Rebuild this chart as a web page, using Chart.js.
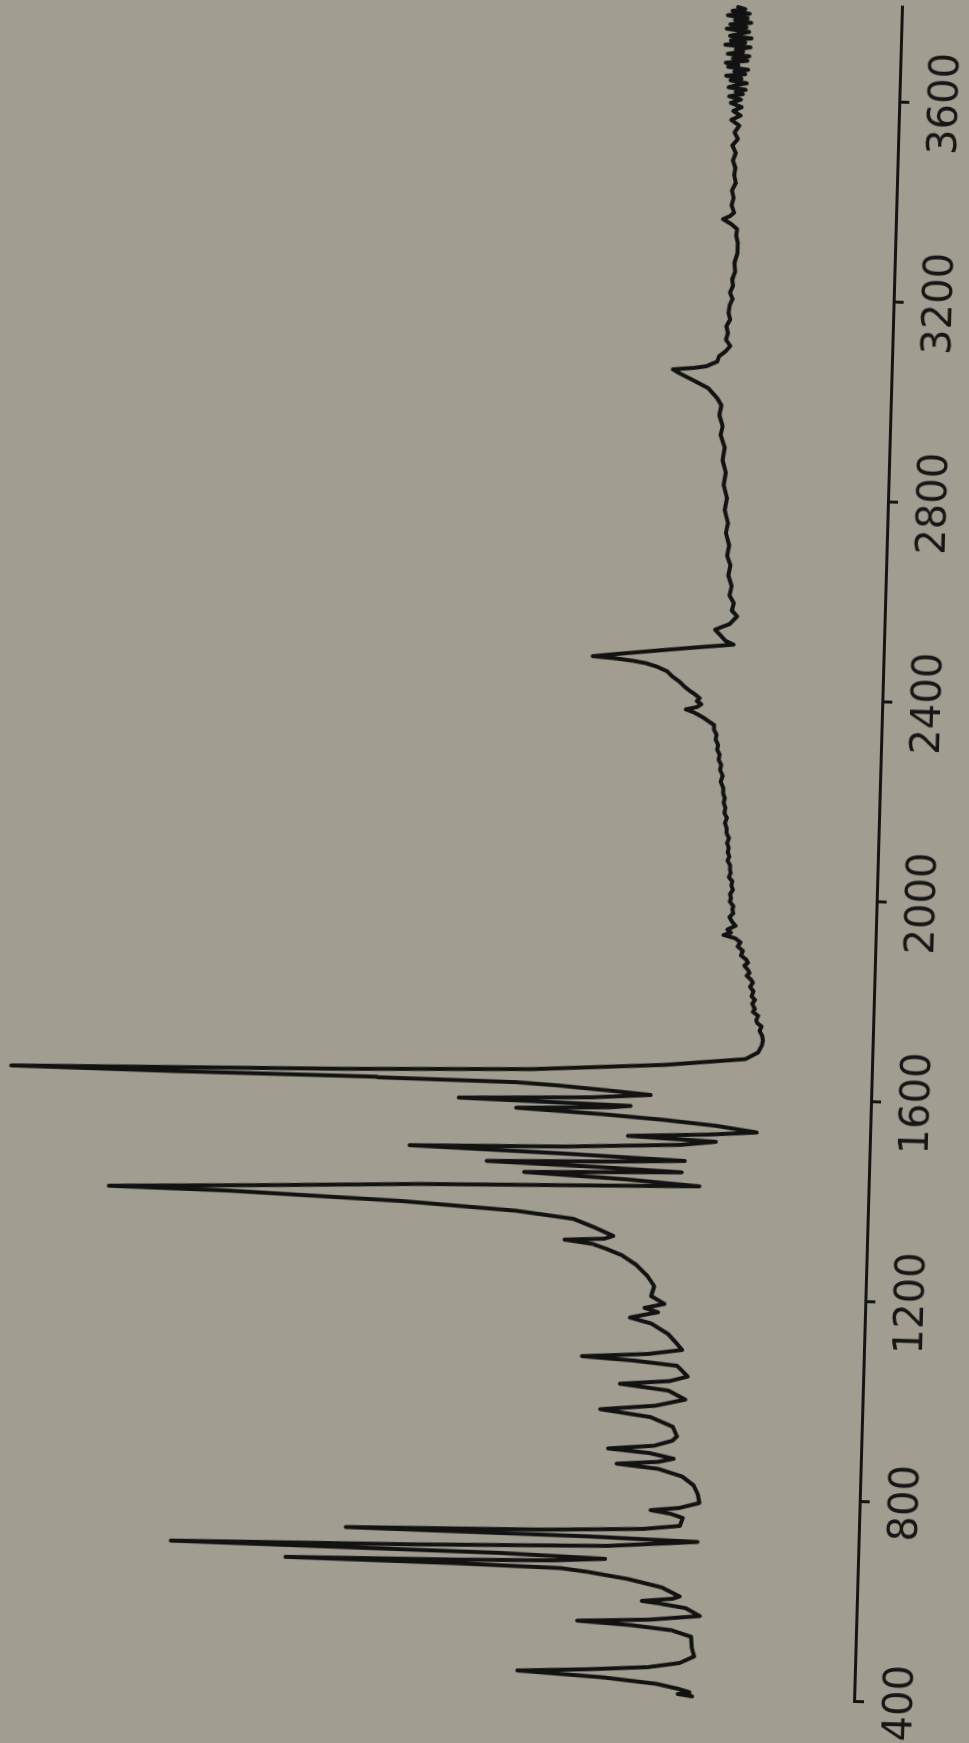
<!DOCTYPE html>
<html>
<head>
<meta charset="utf-8">
<script src="https://cdn.jsdelivr.net/npm/chart.js@4.4.1/dist/chart.umd.min.js"></script>
<style>
html, body { margin: 0; padding: 0; background: #a19d90; width: 969px; height: 1743px; overflow: hidden; }
/* the scanned sheet sits slightly askew, so the whole chart is turned by a bit less than 90 degrees */
#feuille { position: absolute; left: 0; top: 0; width: 1800px; height: 1000px; transform-origin: 0 0; transform: translate(-47.3px, 1736.5px) rotate(-88.38deg); }
</style>
</head>
<body>
<div id="feuille"><canvas id="spectre" width="1800" height="1000"></canvas></div>
<script>
// nombre d'onde (cm-1), dans l'ordre du tracé
const wavenumbers = [
  402, 406, 410, 416, 425, 435, 444, 450, 458, 468, 482, 500, 521, 533, 541, 547, 553, 563, 578, 586,
  590, 596, 601, 618, 633, 645, 651, 655, 658, 662, 666, 672, 678, 684, 690, 698, 711, 716, 721, 727,
  734, 742, 758, 766, 772, 778, 789, 806, 824, 841, 855, 863, 869, 876, 886, 893, 901, 912, 921, 940,
  958, 971, 981, 995, 1012, 1023, 1031, 1041, 1055, 1062, 1070, 1076, 1084, 1094, 1110, 1125, 1145, 1156, 1168, 1176,
  1185, 1200, 1220, 1240, 1262, 1280, 1291, 1301, 1308, 1312, 1318, 1334, 1350, 1363, 1376, 1387, 1390, 1400, 1411, 1417,
  1422, 1432, 1441, 1449, 1455, 1461, 1467, 1472, 1480, 1488, 1494, 1504, 1512, 1519, 1526, 1533, 1544, 1553, 1561, 1569,
  1575, 1579, 1586, 1594, 1602, 1608, 1616, 1620, 1622, 1623, 1625, 1637, 1647, 1663, 1679, 1693, 1707, 1717,
  1727, 1736, 1745, 1752, 1758, 1766, 1774, 1780, 1790, 1798, 1805, 1815, 1824, 1832, 1838, 1846, 1852, 1858, 1866, 1872,
  1878, 1886, 1895, 1904, 1912, 1920, 1926, 1931, 1937, 1945, 1953, 1962, 1970, 1978, 1984, 1993, 2000, 2008, 2017, 2025,
  2034, 2042, 2050, 2058, 2066, 2075, 2083, 2092, 2100, 2110, 2120, 2130, 2140, 2150, 2160, 2170, 2180, 2190, 2200, 2210,
  2220, 2232, 2244, 2256, 2266, 2276, 2286, 2296, 2306, 2316, 2326, 2336, 2345, 2352, 2358, 2364, 2370, 2375, 2380, 2386,
  2392, 2398, 2405, 2412, 2420, 2430, 2440, 2450, 2459, 2465, 2469, 2473, 2476, 2481, 2493, 2500, 2507, 2514, 2525, 2536,
  2548, 2564, 2575, 2590, 2605, 2624, 2645, 2665, 2685, 2705, 2730, 2750, 2775, 2800, 2825, 2850, 2875, 2900, 2925, 2943,
  2965, 2985, 2999, 3018, 3035, 3046, 3054, 3058, 3062, 3072, 3083, 3093, 3104, 3116, 3130, 3143, 3157, 3170, 3185, 3198,
  3210, 3224, 3237, 3252, 3270, 3290, 3311, 3325, 3338, 3348, 3357, 3364, 3371, 3385, 3400, 3415, 3430, 3445, 3460, 3475,
  3490, 3505, 3518, 3531, 3545, 3556, 3565, 3574, 3582, 3590, 3597, 3603, 3608, 3612, 3617, 3621, 3626, 3630, 3635, 3639,
  3644, 3648, 3653, 3657, 3662, 3666, 3670, 3675, 3679, 3684, 3688, 3693, 3697, 3702, 3706, 3711, 3715, 3720, 3724, 3729,
  3733, 3738, 3742, 3747, 3751, 3756, 3760, 3765, 3769, 3774, 3778, 3782
];

// intensité relative (0 = axe, 100 = haut du papier)
const intensities = [
  18.0, 19.6, 18.3, 19.5, 22.0, 28.0, 37.5, 30.0, 23.0, 19.5, 17.9, 18.2, 18.3, 20.5, 25.0, 31.0, 23.0, 17.4, 19.0, 22.0,
  23.9, 20.5, 19.7, 21.7, 25.5, 30.0, 33.0, 45.0, 63.6, 45.0, 34.0, 28.1, 40.0, 76.4, 50.0, 28.0, 17.9, 30.0, 57.0, 35.0,
  24.0, 19.9, 19.6, 21.0, 23.2, 20.0, 17.8, 18.0, 18.5, 19.8, 22.5, 27.1, 22.5, 20.8, 23.5, 28.1, 23.0, 21.0, 20.5, 21.0,
  23.5, 29.1, 23.0, 19.7, 21.6, 27.0, 21.5, 19.5, 20.3, 20.7, 25.5, 31.3, 24.0, 20.2, 21.0, 21.8, 23.7, 26.1, 23.0, 24.5,
  22.3, 23.8, 23.5, 24.3, 25.6, 27.2, 28.8, 30.5, 33.6, 29.2, 28.2, 30.3, 32.7, 39.1, 51.9, 71.0, 84.4, 67.0, 50.0, 33.0,
  18.8, 27.0, 38.3, 20.8, 30.0, 42.5, 28.0, 20.5, 34.0, 51.1, 34.0, 21.0, 17.1, 26.9, 18.0, 12.6, 17.1, 23.0, 29.9, 39.4,
  29.0, 26.7, 45.8, 31.0, 24.5, 28.7, 35.0, 39.5, 54.9, 77.8, 95.6, 58.7, 37.7, 23.0, 14.1, 12.7, 12.3, 12.2,
  12.3, 12.6, 12.4, 12.9, 13.0, 12.8, 13.4, 13.2, 13.5, 13.2, 13.6, 13.4, 13.8, 13.5, 13.7, 14.2, 13.9, 14.1, 14.5, 14.1,
  14.3, 14.9, 14.7, 15.3, 15.0, 15.6, 16.9, 16.1, 16.5, 15.6, 16.0, 16.3, 15.9, 16.0, 15.9, 16.3, 16.2, 16.3, 16.0, 16.2,
  16.1, 16.5, 16.3, 16.4, 16.4, 16.7, 16.5, 16.7, 16.6, 16.8, 16.6, 16.9, 16.9, 17.1, 16.9, 17.2, 17.1, 17.3, 17.2, 17.4,
  17.4, 17.7, 17.5, 17.8, 17.7, 18.0, 17.9, 18.2, 18.1, 18.4, 18.3, 18.6, 18.6, 19.2, 19.7, 20.3, 21.0, 21.8, 20.6, 20.1,
  20.6, 20.3, 20.8, 21.4, 22.0, 22.6, 23.4, 24.0, 25.2, 26.4, 27.8, 29.8, 32.3, 30.0, 24.1, 20.5, 16.7, 17.6, 18.2, 18.8,
  17.2, 16.4, 17.0, 16.8, 17.3, 17.1, 17.5, 17.3, 17.7, 17.5, 17.9, 17.7, 18.1, 17.9, 18.3, 18.1, 18.5, 18.3, 18.8, 18.6,
  19.0, 18.8, 19.3, 20.3, 22.2, 23.5, 24.3, 22.0, 20.6, 19.4, 19.2, 18.5, 18.0, 18.5, 18.3, 18.5, 18.1, 18.3, 18.2, 17.9,
  18.2, 17.9, 18.0, 17.7, 17.8, 17.5, 17.5, 17.7, 17.6, 18.3, 19.2, 18.4, 18.0, 18.3, 18.1, 18.3, 17.9, 18.1, 18.0, 18.3,
  18.0, 18.4, 17.8, 18.2, 17.7, 18.6, 17.6, 18.4, 17.5, 18.7, 17.6, 18.9, 17.4, 18.2, 17.1, 19.0, 18.1, 17.0, 18.8, 17.6,
  19.3, 17.2, 18.4, 16.9, 19.1, 18.0, 19.4, 17.0, 18.6, 16.8, 19.2, 17.5, 18.3, 16.7, 19.5, 17.3, 18.9, 16.6, 19.0, 17.8,
  16.9, 19.4, 17.2, 19.0, 16.7, 18.5, 17.1, 19.3, 16.9, 18.8, 17.4, 18.2
];

const tickLabels = [400, 800, 1200, 1600, 2000, 2400, 2800, 3200, 3600];

const points = wavenumbers.map(function (w, i) {
    return { x: w, y: intensities[i] };
});

new Chart(document.getElementById('spectre'), {
    type: 'line',
    data: {
        datasets: [{
            data: points,
            borderColor: '#121212',
            borderWidth: 4,
            borderJoinStyle: 'round',
            borderCapStyle: 'round',
            pointRadius: 0,
            tension: 0,
            fill: false,
            clip: false
        }]
    },
    options: {
        responsive: false,
        animation: false,
        devicePixelRatio: 1,
        layout: { padding: { left: 60, right: 45, top: 0, bottom: 0 } },
        plugins: {
            legend: { display: false },
            tooltip: { enabled: false }
        },
        scales: {
            x: {
                type: 'linear',
                position: 'bottom',
                min: 400,
                max: 3790,
                afterBuildTicks: function (scale) {
                    scale.ticks = tickLabels.map(function (v) { return { value: v }; });
                },
                afterFit: function (scale) {
                    scale.height = 100;
                    scale.paddingLeft = 0;
                    scale.paddingRight = 0;
                },
                grid: { drawOnChartArea: false, drawTicks: true, tickLength: 10, color: '#141414', lineWidth: 3 },
                border: { display: true, color: '#141414', width: 3 },
                ticks: {
                    color: '#161616',
                    font: { family: 'DejaVu Sans', size: 40 },
                    padding: 14,
                    minRotation: 0,
                    maxRotation: 0,
                    autoSkip: false,
                    callback: function (v) { return String(v); }
                }
            },
            y: { display: false, min: 0, max: 100 }
        }
    }
});
</script>
</body>
</html>
